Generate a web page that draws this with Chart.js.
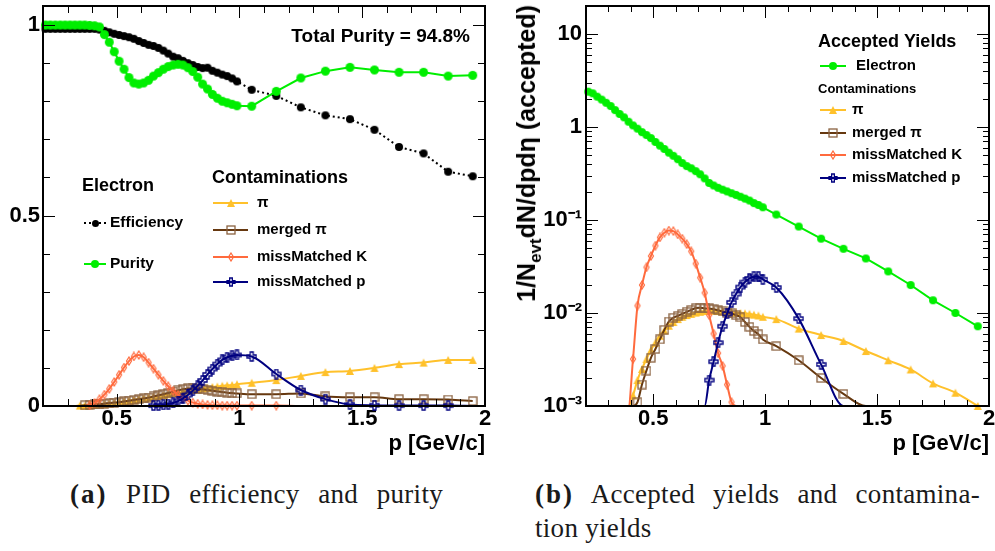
<!DOCTYPE html>
<html><head><meta charset="utf-8">
<script src="https://cdn.jsdelivr.net/npm/chart.js@4.4.1/dist/chart.umd.min.js"></script>
<style>
html,body{margin:0;padding:0;background:#fff;}
#wrap{position:relative;width:995px;height:551px;overflow:hidden;background:#fff;}
canvas{position:absolute;top:0;}
#c1{left:0;}
#c2{left:500px;}
.cap{position:absolute;font-family:"Liberation Serif","DejaVu Serif",serif;font-size:27px;line-height:34px;color:#1a1a1a;white-space:nowrap;letter-spacing:0.3px;}
.cap b{letter-spacing:2px;}
.just{text-align:justify;text-align-last:justify;}
#ytitle{position:absolute;left:531px;top:5px;transform-origin:0 0;transform:rotate(-90deg) translate(-100%,-50%);font:bold 25px "Liberation Sans",Arial,sans-serif;white-space:nowrap;color:#000;line-height:28px;}
#ytitle sub{font-size:17px;vertical-align:-6px;}
</style></head>
<body><div id="wrap">
<canvas id="c1" width="500" height="460"></canvas>
<canvas id="c2" width="495" height="460"></canvas>
<div id="ytitle">1/N<sub>evt</sub>dN/dpd&eta; (accepted)</div>
<div class="cap just" style="left:70px;top:477px;width:373px;"><b>(a)</b> PID efficiency and purity</div>
<div class="cap just" style="left:535px;top:477px;width:445px;"><b>(b)</b> Accepted yields and contamina-</div>
<div class="cap" style="left:535px;top:511px;">tion yields</div>
</div>
<script>
// ================= DATA =================
const momentum = [
  0.21,0.23,0.25,0.27,0.29,0.31,0.33,0.35,0.37,0.39,
  0.41,0.43,0.45,0.47,0.49,0.51,0.53,0.55,0.57,0.59,
  0.61,0.63,0.65,0.67,0.69,0.71,0.73,0.75,0.77,0.79,
  0.81,0.83,0.85,0.87,0.89,0.91,0.93,0.95,0.97,0.99,
  1.05,1.15,1.25,1.35,1.45,1.55,1.65,1.75,1.85,1.95];

// (a) electron efficiency / purity
const efficiency = [
  0.99,0.99,0.99,0.99,0.99,0.99,0.99,0.99,0.99,0.99,
  0.99,0.988,0.985,0.981,0.977,0.974,0.971,0.968,0.964,0.958,
  0.953,0.948,0.945,0.94,0.933,0.925,0.917,0.913,0.906,0.9,
  0.895,0.89,0.887,0.888,0.88,0.875,0.87,0.866,0.86,0.852,
  0.83,0.814,0.784,0.763,0.753,0.725,0.68,0.663,0.615,0.603];
const purity = [
  1,1,1,1,1,1,1,1,1,0.999,
  0.998,0.995,0.975,0.955,0.93,0.905,0.884,0.862,0.848,0.845,
  0.848,0.855,0.866,0.875,0.884,0.891,0.895,0.897,0.895,0.888,
  0.878,0.863,0.845,0.832,0.818,0.808,0.8,0.796,0.792,0.788,
  0.787,0.826,0.861,0.879,0.889,0.882,0.876,0.876,0.866,0.868];
// (a) contamination fractions
const piFraction = [
  0,0,0,0,0,0,0,0.001,0.001,0.002,
  0.003,0.004,0.005,0.007,0.008,0.01,0.012,0.014,0.016,0.018,
  0.02,0.022,0.024,0.026,0.028,0.031,0.033,0.035,0.038,0.04,
  0.042,0.044,0.046,0.048,0.05,0.051,0.053,0.054,0.055,0.057,
  0.061,0.068,0.079,0.089,0.092,0.1,0.11,0.114,0.121,0.121];
const mergedPiFraction = [
  0,0,0,0,0,0,0,0,0.002,0.003,
  0.004,0.005,0.006,0.008,0.009,0.01,0.012,0.014,0.016,0.018,
  0.02,0.022,0.025,0.028,0.031,0.034,0.038,0.041,0.044,0.046,
  0.046,0.045,0.044,0.042,0.04,0.038,0.037,0.035,0.034,0.033,
  0.031,0.031,0.033,0.025,0.023,0.023,0.018,0.018,0.017,0.013];
const kaonFraction = [
  0,0,0,0,0,0,0,0,0,0.002,
  0.008,0.018,0.03,0.045,0.063,0.082,0.101,0.118,0.13,0.134,
  0.128,0.114,0.098,0.082,0.066,0.052,0.04,0.029,0.02,0.014,
  0.009,0.006,0.004,0.003,0.002,0.002,0.001,0.001,0.001,0.001,
  0.001,0.001,0,0,0,0,0,0,0,0];
const protonFraction = [
  0,0,0,0,0,0,0,0,0,0,
  0,0,0,0,0,0,0,0,0,0,
  0,0,0.001,0.002,0.003,0.005,0.008,0.013,0.02,0.029,
  0.04,0.053,0.067,0.083,0.097,0.11,0.121,0.128,0.132,0.134,
  0.13,0.084,0.042,0.018,0.004,0.002,0.001,0.001,0.001,0];

// (b) accepted yields (0 = below the 10^-3 axis floor)
const electronYield = [
  2.4,2.3,2.12,1.97,1.82,1.68,1.52,1.38,1.27,1.14,
  1.04,0.96,0.88,0.82,0.76,0.69,0.63,0.58,0.53,0.49,
  0.45,0.41,0.38,0.36,0.335,0.31,0.28,0.25,0.235,0.222,
  0.212,0.203,0.194,0.186,0.178,0.17,0.162,0.152,0.145,0.137,
  0.1145,0.085,0.063,0.049,0.0386,0.028,0.02,0.0137,0.01,0.0072];
const piYield = [
  0,0,0,0,0,0,0,0,0,0,
  0.0013,0.0019,0.0025,0.0032,0.004,0.0048,0.0057,0.0065,0.0073,0.008,
  0.0086,0.0091,0.0095,0.0098,0.0101,0.0103,0.0105,0.0106,0.0106,0.0105,
  0.0104,0.0103,0.0102,0.0101,0.01,0.0099,0.0098,0.0096,0.0094,0.0091,
  0.0086,0.0068,0.0058,0.005,0.0039,0.0031,0.00247,0.00175,0.00139,0.001];
const mergedPiYield = [
  0,0,0,0,0,0,0,0,0,0,
  0,0.0011,0.0017,0.0024,0.0033,0.0041,0.0052,0.0066,0.0081,0.0089,
  0.0093,0.0098,0.0103,0.0108,0.0113,0.0114,0.0112,0.0112,0.011,0.0107,
  0.0104,0.0101,0.0099,0.0095,0.009,0.008,0.0071,0.0064,0.0059,0.0052,
  0.0044,0.0031,0.002,0.00135,0,0,0,0,0,0];
const kaonYield = [
  0,0,0,0,0,0,0,0,0,0,
  0.0032,0.012,0.02,0.031,0.041,0.053,0.065,0.073,0.077,0.076,
  0.07,0.063,0.055,0.046,0.034,0.024,0.0165,0.0095,0.006,0.0037,
  0.0027,0.0017,0.0011,0,0,0,0,0,0,0,
  0,0,0,0,0,0,0,0,0,0];
const protonYield = [
  0,0,0,0,0,0,0,0,0,0,
  0,0,0,0,0,0,0,0,0,0,
  0,0,0,0,0,0,0,0.0019,0.003,0.0048,
  0.0072,0.0098,0.013,0.016,0.019,0.0215,0.0235,0.0245,0.0245,0.023,
  0.0188,0.0087,0.0028,0,0,0,0,0,0,0];

const xTickLabels = [0.5, 1, 1.5, 2];
const fractionTickLabels = [0, 0.5, 1];
const yieldTickLabels = [0.001, 0.01, 0.1, 1, 10];
const totalPurityText = 'Total Purity = 94.8%';
const names = {eff:'Efficiency', pur:'Purity', pi:'\u03c0', merged:'merged \u03c0', k:'missMatched K', p:'missMatched p', e:'Electron'};

// ================= STYLE =================
const FONT = '"Liberation Sans", Arial, Helvetica, sans-serif';
const COL = {green:'#00ee00', black:'#000000', pi:'#ffc12b', mergedLine:'#66380f', mergedMk:'#8a6240', k:'#ff6a3d', p:'#000080'};

function mk(size, draw){ const c=document.createElement('canvas'); c.width=c.height=size; const g=c.getContext('2d'); draw(g,size/2); return c; }
const M = {
  dot:(col,r)=>mk(Math.ceil(2*r+2),(g,c)=>{g.fillStyle=col;g.beginPath();g.arc(c,c,r,0,7);g.fill();}),
  tri:(col,s)=>mk(s+2,(g,c)=>{g.fillStyle=col;g.beginPath();g.moveTo(c,c-s/2);g.lineTo(c+s/2,c+s/2);g.lineTo(c-s/2,c+s/2);g.closePath();g.fill();}),
  sq:(col,s)=>mk(s+2,(g,c)=>{g.strokeStyle=col;g.lineWidth=1.3;g.strokeRect(c-s/2,c-s/2,s,s);}),
  dia:(col,w,h)=>mk(h+2,(g,c)=>{g.strokeStyle=col;g.lineWidth=1.2;g.beginPath();g.moveTo(c,c-h/2);g.lineTo(c+w/2,c);g.lineTo(c,c+h/2);g.lineTo(c-w/2,c);g.closePath();g.stroke();}),
  cross:(col,s)=>mk(s+2,(g,c)=>{const a=s/2,b=s/6;g.strokeStyle=col;g.lineWidth=1.3;g.beginPath();
    g.moveTo(c-b,c-a);g.lineTo(c+b,c-a);g.lineTo(c+b,c-b);g.lineTo(c+a,c-b);g.lineTo(c+a,c+b);g.lineTo(c+b,c+b);
    g.lineTo(c+b,c+a);g.lineTo(c-b,c+a);g.lineTo(c-b,c+b);g.lineTo(c-a,c+b);g.lineTo(c-a,c-b);g.lineTo(c-b,c-b);g.closePath();g.stroke();})
};
const mkA = {eff:M.dot(COL.black,4), pur:M.dot(COL.green,4.5), pi:M.tri(COL.pi,8), merged:M.sq(COL.mergedMk,8), k:M.dia(COL.k,5,8), p:M.cross(COL.p,9)};
const mkB = {e:M.dot(COL.green,4), pi:M.tri(COL.pi,8), merged:M.sq(COL.mergedMk,8), k:M.dia(COL.k,5,8), p:M.cross(COL.p,9)};
const mkL = {eff:M.dot(COL.black,3.5), pur:M.dot(COL.green,4), pi:M.tri(COL.pi,8), merged:M.sq(COL.mergedMk,8), k:M.dia(COL.k,5,8), p:M.cross(COL.p,8), e:M.dot(COL.green,4)};

function series(vals, floor){
  return momentum.map((p,i)=>{ const v=vals[i]; return {x:p, y:(v>0?v:floor), z:!(v>0)}; });
}
const rad = c => (c.raw && c.raw.z) ? 0 : 4;
function ds(label, vals, floor, color, marker, extra){
  return Object.assign({label, data:series(vals,floor), borderColor:color, backgroundColor:color, borderWidth:2,
    pointStyle:marker, pointRadius:rad, pointHoverRadius:rad, tension:0, fill:false, clip:6}, extra||{});
}
const smooth = {cubicInterpolationMode:'monotone'};

const frameTicks = {
  id:'frameTicks',
  afterDraw(chart, args, o){
    const {ctx, chartArea:a} = chart; const xs=chart.scales.x, ys=chart.scales.y;
    ctx.save(); ctx.strokeStyle='#000'; ctx.lineWidth=1;
    const seg=(x1,y1,x2,y2)=>{ctx.beginPath();ctx.moveTo(x1,y1);ctx.lineTo(x2,y2);ctx.stroke();};
    const xt=(vals,L)=>vals.forEach(v=>{const px=Math.round(xs.getPixelForValue(v))+0.5; seg(px,a.bottom,px,a.bottom-L); seg(px,a.top,px,a.top+L);});
    const yt=(vals,L)=>vals.forEach(v=>{const py=Math.round(ys.getPixelForValue(v))+0.5; seg(a.left,py,a.left+L,py); seg(a.right,py,a.right-L,py);});
    xt(o.xMinor,o.minorLen); xt(o.xMajor,o.majorLen); yt(o.yMinor,o.minorLen); yt(o.yMajor,o.majorLen);
    ctx.lineWidth=2; ctx.strokeRect(a.left,a.top,a.right-a.left,a.bottom-a.top);
    ctx.restore();
  }
};
const rootLegend = {
  id:'rootLegend',
  afterDraw(chart, args, o){
    const ctx=chart.ctx; ctx.save(); ctx.textBaseline='middle';
    (o.samples||[]).forEach(s=>{ ctx.strokeStyle=s.color; ctx.lineWidth=2; ctx.setLineDash(s.dash||[]);
      ctx.beginPath(); ctx.moveTo(s.x1,s.y); ctx.lineTo(s.x2,s.y); ctx.stroke(); ctx.setLineDash([]);
      const m=s.marker; ctx.drawImage(m, Math.round((s.x1+s.x2)/2-m.width/2), Math.round(s.y-m.height/2)); });
    (o.texts||[]).forEach(t=>{ ctx.font=t.font; ctx.fillStyle='#000'; ctx.textAlign=t.align||'left'; ctx.fillText(t.text,t.x,t.y); });
    ctx.restore();
  }
};

const minorX = []; for (let v=3; v<=19; v++) if (v%5) minorX.push(v/10);
const minorFrac = []; for (let v=1; v<=10; v++) if (v%5) minorFrac.push(v/10);
const minorLog = []; [0.001,0.01,0.1,1,10].forEach(d=>{ for(let m=2;m<=9;m++){ if(d*m<=20) minorLog.push(d*m);} });

const tickFont = {family:FONT, weight:'bold', size:22};
function xScale(height){
  return { type:'linear', min:0.2, max:2, grid:{display:false, drawTicks:false}, border:{display:false},
    ticks:{font:tickFont, color:'#000', padding:0, maxRotation:0, autoSkip:false, callback:v=>String(v)},
    afterBuildTicks:s=>{ s.ticks = xTickLabels.map(v=>({value:v})); },
    afterFit:s=>{ s.height=height; s.paddingLeft=0; s.paddingRight=0; },
    title:{display:true, text:'p [GeV/c]', align:'end', color:'#000', font:{family:FONT, weight:'bold', size:22}, padding:{top:0, bottom:3}} };
}
function baseOpts(){
  return { responsive:false, animation:false, events:[], devicePixelRatio:1,
    plugins:{legend:{display:false}, tooltip:{enabled:false}} };
}

// ---------- chart (a) ----------
const optA = baseOpts();
optA.layout = {padding:{top:5, right:15, left:0, bottom:0}};
optA.scales = {
  x: xScale(54),
  y: { type:'linear', min:0, max:1.05, grid:{display:false, drawTicks:false}, border:{display:false},
    ticks:{font:tickFont, color:'#000', padding:3, autoSkip:false, callback:v=>String(v)},
    afterBuildTicks:s=>{ s.ticks = fractionTickLabels.map(v=>({value:v})); },
    afterFit:s=>{ s.width=43; s.paddingTop=0; s.paddingBottom=0; } }
};
optA.plugins.frameTicks = {xMajor:xTickLabels, xMinor:minorX, yMajor:fractionTickLabels, yMinor:minorFrac, majorLen:12, minorLen:7};
optA.plugins.rootLegend = {
  texts:[
    {text:totalPurityText, x:470, y:37, align:'right', font:'bold 19px '+FONT},
    {text:'Electron', x:82, y:186, font:'bold 18px '+FONT},
    {text:names.eff, x:110, y:223, font:'bold 15.5px '+FONT},
    {text:names.pur, x:110, y:264, font:'bold 15.5px '+FONT},
    {text:'Contaminations', x:212, y:178, font:'bold 18px '+FONT},
    {text:names.pi, x:257, y:203, font:'bold 15px '+FONT},
    {text:names.merged, x:257, y:230, font:'bold 15px '+FONT},
    {text:names.k, x:257, y:257, font:'bold 15px '+FONT},
    {text:names.p, x:257, y:282, font:'bold 15px '+FONT}],
  samples:[
    {x1:84, x2:106, y:223, color:COL.black, dash:[2,3], marker:mkL.eff},
    {x1:84, x2:106, y:264, color:COL.green, marker:mkL.pur},
    {x1:213, x2:248, y:203, color:COL.pi, marker:mkL.pi},
    {x1:213, x2:248, y:230, color:COL.mergedLine, marker:mkL.merged},
    {x1:213, x2:248, y:257, color:COL.k, marker:mkL.k},
    {x1:213, x2:248, y:282, color:COL.p, marker:mkL.p}]
};
new Chart(document.getElementById('c1'), {
  type:'line',
  data:{datasets:[
    ds(names.pur, purity, 0, COL.green, mkA.pur),
    ds(names.eff, efficiency, 0, COL.black, mkA.eff, {borderDash:[2,3]}),
    ds(names.p, protonFraction, 0, COL.p, mkA.p, smooth),
    ds(names.k, kaonFraction, 0, COL.k, mkA.k, smooth),
    ds(names.merged, mergedPiFraction, 0, COL.mergedLine, mkA.merged, smooth),
    ds(names.pi, piFraction, 0, COL.pi, mkA.pi, smooth)
  ]},
  options:optA, plugins:[frameTicks, rootLegend]
});

// ---------- chart (b) ----------
const sup = {'-':'\u207b','1':'\u00b9','2':'\u00b2','3':'\u00b3'};
const FLOOR = yieldTickLabels[0];
const optB = baseOpts();
optB.layout = {padding:{top:5, right:4, left:0, bottom:0}};
optB.scales = {
  x: xScale(54),
  y: { type:'logarithmic', min:FLOOR, max:20, grid:{display:false, drawTicks:false}, border:{display:false},
    ticks:{font:tickFont, color:'#000', padding:4, autoSkip:false,
      callback:v=>{ const e=Math.round(Math.log10(v)); if(e===0) return '1'; if(e===1) return '10'; return '10'+String(e).split('').map(c=>sup[c]).join(''); }},
    afterBuildTicks:s=>{ s.ticks = yieldTickLabels.map(v=>({value:v})); },
    afterFit:s=>{ s.width=86; s.paddingTop=0; s.paddingBottom=0; } }
};
optB.plugins.frameTicks = {xMajor:xTickLabels, xMinor:minorX, yMajor:yieldTickLabels, yMinor:minorLog, majorLen:12, minorLen:6};
optB.plugins.rootLegend = {
  texts:[
    {text:'Accepted Yields', x:318, y:42, font:'bold 18px '+FONT},
    {text:names.e, x:356, y:66, font:'bold 15px '+FONT},
    {text:'Contaminations', x:318, y:89, font:'bold 13px '+FONT},
    {text:names.pi, x:352, y:110, font:'bold 15px '+FONT},
    {text:names.merged, x:352, y:133, font:'bold 15px '+FONT},
    {text:names.k, x:352, y:155, font:'bold 15px '+FONT},
    {text:names.p, x:352, y:178, font:'bold 15px '+FONT}],
  samples:[
    {x1:320, x2:346, y:66, color:COL.green, marker:mkL.e},
    {x1:320, x2:346, y:110, color:COL.pi, marker:mkL.pi},
    {x1:320, x2:346, y:133, color:COL.mergedLine, marker:mkL.merged},
    {x1:320, x2:346, y:155, color:COL.k, marker:mkL.k},
    {x1:320, x2:346, y:178, color:COL.p, marker:mkL.p}]
};
new Chart(document.getElementById('c2'), {
  type:'line',
  data:{datasets:[
    ds(names.e, electronYield, FLOOR, COL.green, mkB.e),
    ds(names.p, protonYield, FLOOR, COL.p, mkB.p, smooth),
    ds(names.k, kaonYield, FLOOR, COL.k, mkB.k, smooth),
    ds(names.merged, mergedPiYield, FLOOR, COL.mergedLine, mkB.merged, smooth),
    ds(names.pi, piYield, FLOOR, COL.pi, mkB.pi, smooth)
  ]},
  options:optB, plugins:[frameTicks, rootLegend]
});
</script>
</body></html>
